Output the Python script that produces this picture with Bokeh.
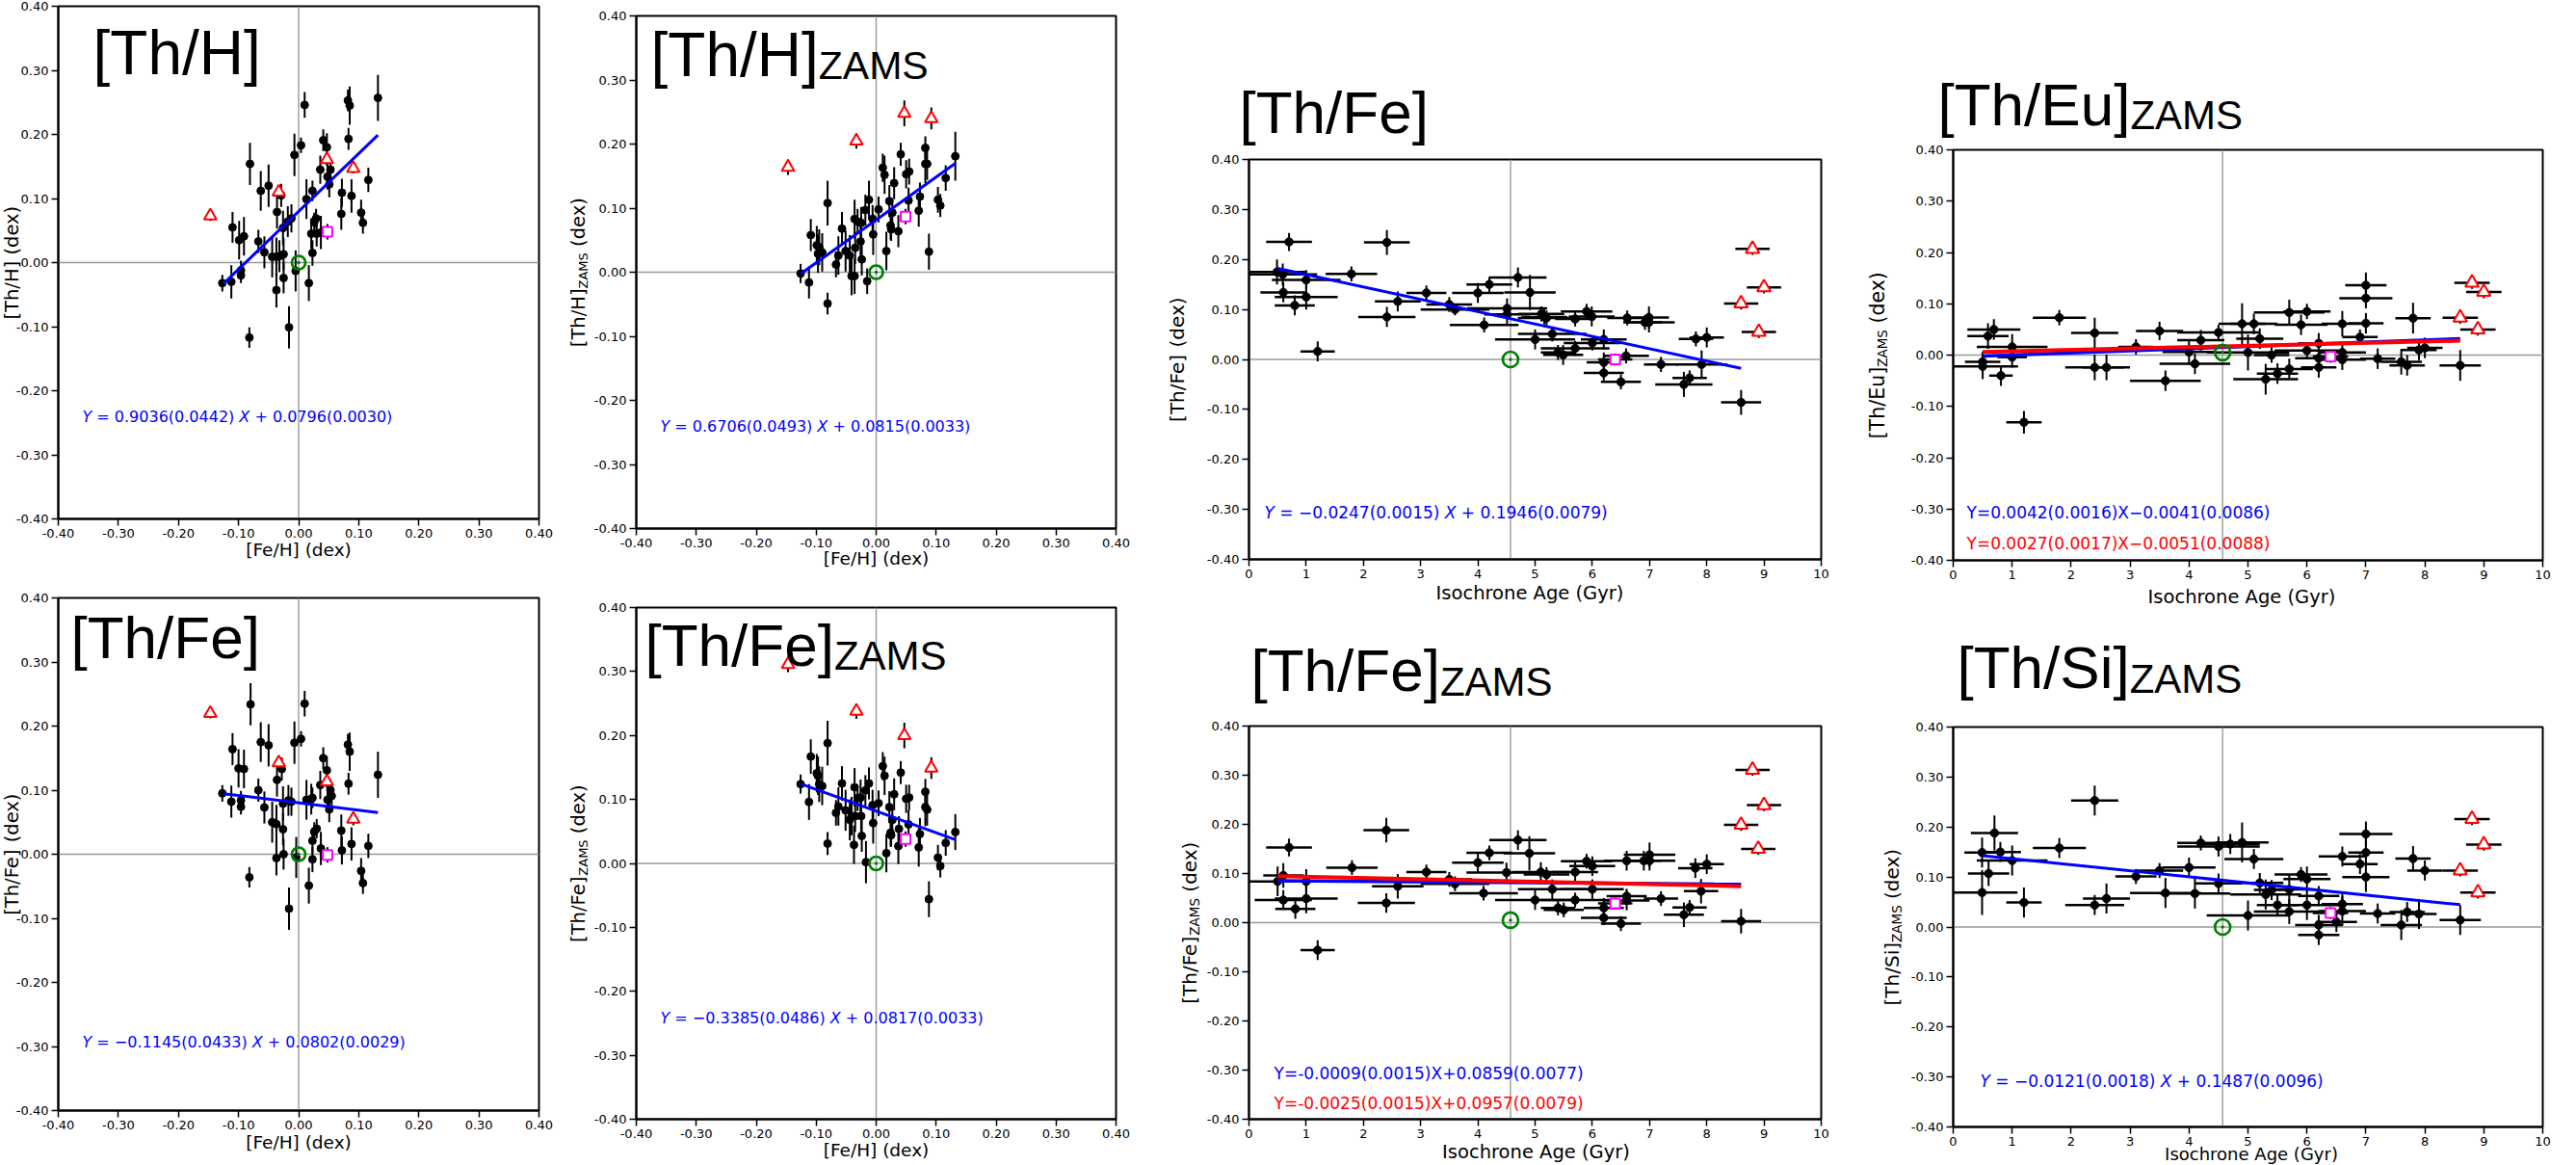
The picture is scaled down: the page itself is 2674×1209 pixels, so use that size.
import math
from bokeh.plotting import figure
from bokeh.models import Label, Span, FixedTicker, NumeralTickFormatter, Range1d, GridBox
from bokeh.layouts import row, column
from bokeh.embed import file_html
from bokeh.resources import INLINE

# ---------------- tick values ----------------
FEH_TICKS = [-0.4, -0.3, -0.2, -0.1, 0.0, 0.1, 0.2, 0.3, 0.4]
AGE_TICKS = [0, 1, 2, 3, 4, 5, 6, 7, 8, 9, 10]
Y_TICKS = [-0.4, -0.3, -0.2, -0.1, 0.0, 0.1, 0.2, 0.3, 0.4]
SUN_AGE = 4.57

# ---------------- panel 1 : [Th/H] vs [Fe/H] ----------------
thh_feh = [-0.127,-0.112,-0.110,-0.099,-0.096,-0.096,-0.091,-0.081,-0.082,-0.067,-0.063,-0.057,-0.050,-0.044,-0.037,-0.037,-0.036,-0.032,-0.029,-0.026,-0.025,-0.025,-0.018,-0.016,-0.012,-0.007,-0.005,0.004,0.010,0.013,0.017,0.021,0.023,0.023,0.026,0.029,0.030,0.036,0.037,0.041,0.047,0.048,0.051,0.053,0.071,0.072,0.082,0.085,0.083,0.088,0.104,0.107,0.116,0.132]
thh_val = [-0.032,-0.030,0.055,0.035,-0.012,-0.020,0.041,0.154,-0.117,0.033,0.112,0.016,0.120,0.009,0.009,-0.043,0.079,0.010,0.105,0.054,0.013,-0.024,0.064,-0.101,0.069,0.168,-0.013,0.183,0.246,0.099,-0.032,0.045,0.112,0.015,0.063,0.069,0.045,0.145,0.047,0.191,0.180,0.134,0.122,0.145,0.076,0.109,0.253,0.245,0.193,0.104,0.078,0.062,0.129,0.257]
thh_err = [0.013,0.026,0.024,0.030,0.015,0.012,0.030,0.033,0.016,0.018,0.031,0.025,0.033,0.032,0.030,0.027,0.026,0.025,0.018,0.027,0.025,0.024,0.024,0.033,0.022,0.033,0.032,0.012,0.020,0.031,0.028,0.024,0.016,0.020,0.015,0.015,0.020,0.022,0.026,0.017,0.022,0.020,0.020,0.017,0.025,0.022,0.017,0.030,0.017,0.026,0.020,0.017,0.019,0.036]
thh_tri_feh = [-0.147, -0.033, 0.047, 0.091]
thh_tri_val = [0.073, 0.110, 0.161, 0.147]
thh_tri_err = [0.008, 0.010, 0.010, 0.008]
thh_sq = [0.048, 0.048, 0.019]
thh_fit_x = [-0.125, 0.132]
thh_fit_y = [-0.033, 0.199]

# ---------------- panel 2 : [Th/H]ZAMS vs [Fe/H] ----------------
thhz_feh = [-0.126,-0.112,-0.109,-0.099,-0.097,-0.095,-0.090,-0.081,-0.081,-0.067,-0.063,-0.057,-0.051,-0.044,-0.041,-0.036,-0.036,-0.035,-0.031,-0.026,-0.025,-0.024,-0.018,-0.015,-0.012,-0.006,-0.005,0.004,0.011,0.014,0.017,0.022,0.024,0.025,0.027,0.030,0.037,0.041,0.050,0.054,0.055,0.071,0.073,0.082,0.082,0.085,0.088,0.103,0.107,0.116,0.132]
thhz_val = [-0.002,-0.016,0.058,0.042,0.029,0.039,0.031,0.108,-0.049,0.012,0.026,0.068,0.033,0.026,-0.006,0.083,-0.006,0.038,0.079,0.048,0.077,0.020,0.097,-0.014,0.113,0.083,0.059,0.098,0.163,0.152,0.033,0.111,0.073,0.067,0.093,0.139,0.064,0.184,0.153,0.112,0.157,0.096,0.118,0.194,0.169,0.169,0.032,0.113,0.104,0.147,0.181]
thhz_err = [0.015,0.025,0.025,0.030,0.030,0.028,0.030,0.035,0.017,0.020,0.030,0.026,0.032,0.032,0.030,0.030,0.028,0.025,0.020,0.028,0.025,0.025,0.024,0.020,0.030,0.022,0.032,0.020,0.022,0.030,0.030,0.025,0.022,0.018,0.020,0.025,0.025,0.018,0.022,0.020,0.020,0.025,0.022,0.018,0.030,0.025,0.028,0.020,0.018,0.020,0.038]
thhz_tri_feh = [-0.147, -0.033, 0.047, 0.092]
thhz_tri_val = [0.164, 0.205, 0.248, 0.240]
thhz_tri_err = [0.012, 0.012, 0.020, 0.017]
thhz_sq = [0.049, 0.087, 0.010]
thhz_fit_x = [-0.125, 0.132]
thhz_fit_y = [-0.002, 0.170]

# ---------------- panel 5 : [Th/Fe] vs [Fe/H] ----------------
thfe_feh = [-0.127,-0.112,-0.110,-0.100,-0.096,-0.096,-0.091,-0.080,-0.082,-0.067,-0.063,-0.057,-0.050,-0.044,-0.037,-0.037,-0.036,-0.028,-0.026,-0.026,-0.025,-0.017,-0.016,-0.012,-0.007,-0.004,0.004,0.010,0.013,0.017,0.021,0.023,0.023,0.023,0.026,0.030,0.036,0.037,0.041,0.047,0.048,0.051,0.053,0.055,0.071,0.072,0.082,0.085,0.083,0.088,0.104,0.107,0.116,0.132]
thfe_val = [0.095,0.082,0.164,0.134,0.084,0.074,0.133,0.234,-0.036,0.100,0.175,0.073,0.170,0.050,0.047,-0.006,0.116,0.133,0.079,0.039,0.000,0.084,-0.085,0.082,0.174,-0.005,0.180,0.235,0.085,-0.049,0.086,0.088,0.021,-0.008,0.035,0.040,0.108,0.009,0.150,0.131,0.085,0.070,0.100,0.091,0.037,0.006,0.171,0.160,0.110,0.016,-0.026,-0.045,0.013,0.124]
thfe_err = [0.013,0.025,0.025,0.030,0.015,0.012,0.030,0.033,0.016,0.018,0.031,0.025,0.033,0.032,0.030,0.027,0.026,0.018,0.027,0.025,0.024,0.024,0.033,0.022,0.033,0.032,0.012,0.020,0.031,0.028,0.024,0.016,0.020,0.020,0.015,0.015,0.022,0.026,0.017,0.022,0.020,0.020,0.017,0.017,0.025,0.022,0.017,0.030,0.017,0.026,0.020,0.017,0.019,0.036]
thfe_tri_feh = [-0.147, -0.033, 0.047, 0.091]
thfe_tri_val = [0.220, 0.143, 0.113, 0.055]
thfe_tri_err = [0.008, 0.010, 0.010, 0.010]
thfe_sq = [0.048, -0.001, 0.020]
thfe_fit_x = [-0.125, 0.132]
thfe_fit_y = [0.0945, 0.0651]

# ---------------- panel 6 : [Th/Fe]ZAMS vs [Fe/H] ----------------
thfez_feh = [-0.126,-0.112,-0.109,-0.099,-0.097,-0.095,-0.090,-0.081,-0.081,-0.067,-0.063,-0.057,-0.051,-0.044,-0.041,-0.036,-0.037,-0.035,-0.031,-0.026,-0.025,-0.024,-0.018,-0.017,-0.012,-0.006,-0.005,0.004,0.011,0.014,0.017,0.022,0.024,0.025,0.027,0.030,0.037,0.038,0.041,0.050,0.054,0.055,0.071,0.073,0.082,0.082,0.085,0.088,0.103,0.107,0.116,0.132]
thfez_val = [0.124,0.096,0.167,0.141,0.137,0.124,0.121,0.188,0.031,0.079,0.089,0.125,0.083,0.068,0.074,0.119,0.029,0.074,0.102,0.103,0.074,0.043,0.114,0.002,0.125,0.091,0.063,0.094,0.152,0.137,0.016,0.088,0.048,0.044,0.068,0.108,0.027,0.054,0.142,0.101,0.061,0.103,0.025,0.046,0.112,0.088,0.084,-0.056,0.009,-0.004,0.032,0.049]
thfez_err = [0.015,0.028,0.027,0.030,0.030,0.028,0.030,0.035,0.018,0.020,0.030,0.027,0.032,0.032,0.030,0.030,0.030,0.025,0.020,0.028,0.025,0.025,0.024,0.033,0.025,0.024,0.032,0.020,0.022,0.030,0.030,0.025,0.022,0.018,0.022,0.025,0.028,0.020,0.018,0.022,0.022,0.020,0.030,0.025,0.020,0.030,0.025,0.028,0.020,0.018,0.020,0.028]
thfez_tri_feh = [-0.147, -0.033, 0.047, 0.092]
thfez_tri_val = [0.311, 0.238, 0.200, 0.149]
thfez_tri_err = [0.012, 0.012, 0.020, 0.017]
thfez_sq = [0.049, 0.038, 0.010]
thfez_fit_x = [-0.125, 0.132]
thfez_fit_y = [0.124, 0.037]

# ---------------- panel 3 : [Th/Fe] vs age ----------------
a3_age = [0.49,0.59,0.60,0.70,0.80,1.0,1.0,1.2,1.79,2.41,2.41,2.60,3.10,3.50,3.60,4.00,4.11,4.20,4.51,4.51,4.70,4.91,5.0,5.11,5.16,5.2,5.30,5.40,5.49,5.70,5.70,5.90,5.99,6.00,6.20,6.20,6.20,6.50,6.59,6.61,6.92,6.99,6.99,7.20,7.60,7.70,7.81,7.91,8.00,8.60]
a3_val = [0.175,0.170,0.134,0.235,0.108,0.159,0.125,0.016,0.171,0.234,0.085,0.116,0.133,0.110,0.100,0.133,0.069,0.150,0.102,0.090,0.164,0.134,0.040,0.091,0.085,0.083,0.051,0.014,0.009,0.022,0.081,0.096,0.086,0.033,-0.006,-0.027,0.040,-0.045,0.007,0.083,0.074,0.084,0.074,-0.010,-0.050,-0.037,0.041,-0.010,0.044,-0.086]
a3_xerr = [0.5,0.6,0.4,0.4,0.35,0.6,0.55,0.3,0.45,0.4,0.5,0.4,0.35,0.4,0.6,0.45,0.6,0.4,0.7,0.4,0.5,0.45,0.7,0.4,0.4,0.5,0.6,0.3,0.35,0.6,0.35,0.45,0.4,0.5,0.3,0.35,0.4,0.35,0.4,0.35,0.3,0.35,0.45,0.3,0.5,0.3,0.3,0.45,0.3,0.35]
a3_yerr = [0.025,0.022,0.02,0.018,0.02,0.02,0.025,0.02,0.015,0.025,0.02,0.02,0.015,0.015,0.012,0.02,0.015,0.015,0.02,0.02,0.02,0.035,0.02,0.015,0.015,0.015,0.015,0.015,0.02,0.015,0.015,0.015,0.02,0.015,0.02,0.015,0.02,0.015,0.015,0.015,0.015,0.022,0.02,0.015,0.025,0.015,0.015,0.028,0.02,0.025]
a3_tri_age = [8.80, 9.00, 8.60, 8.91]
a3_tri_val = [0.221, 0.144, 0.112, 0.055]
a3_sq = [6.40, 0.000]
a3_sun = 0.0
a3_fit_x = [0.5, 8.6]
a3_fit_y = [0.182, -0.018]

# ---------------- panel 4 : [Th/Eu]ZAMS vs age ----------------
a4_age = [0.50,0.50,0.59,0.69,0.81,1.0,1.0,1.2,1.8,2.4,2.4,2.6,3.1,3.5,3.6,4.0,4.1,4.2,4.5,4.9,5.0,5.1,5.2,5.3,5.4,5.5,5.7,5.7,5.9,6.0,6.0,6.2,6.2,6.2,6.6,6.6,6.6,6.9,7.0,7.0,7.0,7.2,7.6,7.7,7.8,7.9,8.0,8.6]
a4_val = [-0.022,-0.013,0.037,0.050,-0.040,0.016,-0.004,-0.131,0.073,0.043,-0.024,-0.024,0.016,0.047,-0.050,0.006,-0.017,0.029,0.044,0.061,0.005,0.061,0.032,-0.047,0.000,-0.036,0.083,-0.027,0.059,0.085,0.009,0.023,-0.006,-0.024,0.061,0.005,-0.009,0.035,0.136,0.111,0.062,-0.007,-0.013,-0.020,0.072,0.010,0.014,-0.020]
a4_xerr = [0.6,0.3,0.35,0.45,0.2,0.6,0.25,0.3,0.45,0.4,0.5,0.4,0.3,0.4,0.6,0.45,0.6,0.4,0.7,0.4,0.7,0.4,0.4,0.55,0.3,0.35,0.6,0.4,0.45,0.4,0.55,0.35,0.4,0.3,0.35,0.4,0.4,0.3,0.35,0.45,0.3,0.3,0.35,0.3,0.3,0.3,0.3,0.35]
a4_yerr = [0.025,0.02,0.025,0.02,0.02,0.025,0.02,0.022,0.015,0.03,0.025,0.025,0.015,0.018,0.02,0.025,0.02,0.02,0.015,0.04,0.035,0.02,0.02,0.03,0.015,0.02,0.025,0.02,0.02,0.015,0.015,0.02,0.015,0.02,0.025,0.015,0.02,0.015,0.025,0.02,0.02,0.02,0.025,0.02,0.03,0.02,0.02,0.03]
a4_tri_age = [8.8, 9.0, 8.6, 8.9]
a4_tri_val = [0.141, 0.123, 0.073, 0.050]
a4_sq = [6.4, -0.003]
a4_sun = 0.005
a4_fit_x = [0.5, 8.6]
a4_fit_blue = [-0.002, 0.032]
a4_fit_red = [0.006, 0.028]

# ---------------- panel 7 : [Th/Fe]ZAMS vs age ----------------
a7_age = [0.50,0.60,0.60,0.70,0.81,1.0,1.0,1.2,1.8,2.4,2.4,2.6,3.1,3.5,3.6,4.0,4.1,4.2,4.5,4.7,4.9,5.0,5.1,5.2,5.3,5.4,5.5,5.7,5.7,5.9,6.0,6.0,6.2,6.2,6.5,6.6,6.6,6.6,6.9,7.0,7.0,7.2,7.6,7.7,7.8,7.9,8.0,8.6]
a7_val = [0.084,0.096,0.046,0.153,0.028,0.084,0.049,-0.056,0.112,0.188,0.040,0.074,0.103,0.088,0.079,0.122,0.060,0.142,0.102,0.168,0.141,0.046,0.103,0.098,0.068,0.030,0.026,0.046,0.103,0.125,0.115,0.068,0.030,0.010,-0.002,0.126,0.054,0.045,0.126,0.138,0.126,0.049,0.016,0.031,0.111,0.064,0.119,0.003]
a7_xerr = [0.6,0.35,0.5,0.4,0.35,0.55,0.55,0.3,0.45,0.4,0.5,0.45,0.35,0.4,0.6,0.45,0.6,0.4,0.7,0.5,0.45,0.7,0.5,0.4,0.6,0.3,0.35,0.6,0.4,0.45,0.4,0.55,0.35,0.4,0.35,0.4,0.35,0.4,0.3,0.45,0.45,0.3,0.35,0.3,0.3,0.3,0.3,0.35]
a7_yerr = [0.03,0.025,0.02,0.018,0.02,0.025,0.03,0.02,0.015,0.025,0.02,0.025,0.015,0.015,0.015,0.02,0.015,0.015,0.02,0.02,0.035,0.02,0.02,0.015,0.02,0.015,0.015,0.015,0.02,0.015,0.02,0.02,0.02,0.015,0.015,0.02,0.015,0.02,0.02,0.025,0.02,0.015,0.025,0.015,0.02,0.025,0.02,0.025]
a7_tri_age = [8.8, 9.0, 8.6, 8.9]
a7_tri_val = [0.311, 0.239, 0.199, 0.150]
a7_sq = [6.4, 0.039]
a7_sun = 0.005
a7_fit_x = [0.5, 8.6]
a7_fit_blue = [0.0854, 0.0782]
a7_fit_red = [0.0945, 0.0742]

# ---------------- panel 8 : [Th/Si]ZAMS vs age ----------------
a8_age = [0.49,0.49,0.60,0.70,0.80,1.0,1.2,1.8,2.4,2.4,2.6,3.1,3.5,3.6,4.0,4.1,4.2,4.5,4.5,4.7,4.9,5.0,5.1,5.2,5.3,5.4,5.5,5.7,5.7,5.9,6.0,6.0,6.2,6.2,6.2,6.5,6.6,6.6,6.6,6.9,7.0,7.0,7.0,7.2,7.6,7.7,7.8,7.9,8.0,8.6]
a8_val = [0.149,0.069,0.107,0.188,0.150,0.133,0.049,0.158,0.253,0.044,0.057,0.101,0.113,0.068,0.119,0.067,0.168,0.161,0.087,0.166,0.169,0.023,0.136,0.088,0.065,0.074,0.044,0.031,0.075,0.105,0.096,0.044,0.062,0.004,-0.016,0.010,0.141,0.046,0.032,0.126,0.186,0.149,0.100,0.027,0.004,0.030,0.137,0.026,0.113,0.014]
a8_xerr = [0.3,0.6,0.35,0.4,0.35,0.6,0.3,0.45,0.4,0.5,0.4,0.35,0.4,0.6,0.45,0.6,0.4,0.7,0.4,0.5,0.45,0.7,0.5,0.4,0.6,0.3,0.35,0.6,0.4,0.45,0.4,0.55,0.35,0.4,0.35,0.35,0.4,0.35,0.4,0.3,0.45,0.3,0.4,0.3,0.35,0.3,0.3,0.3,0.3,0.35]
a8_yerr = [0.03,0.045,0.025,0.035,0.02,0.03,0.03,0.02,0.03,0.02,0.03,0.015,0.015,0.03,0.02,0.03,0.015,0.02,0.02,0.02,0.04,0.03,0.02,0.02,0.03,0.02,0.02,0.025,0.03,0.015,0.025,0.03,0.02,0.02,0.02,0.02,0.02,0.02,0.03,0.02,0.025,0.025,0.03,0.02,0.03,0.02,0.025,0.03,0.02,0.03]
a8_tri_age = [8.8, 9.0, 8.6, 8.9]
a8_tri_val = [0.216, 0.165, 0.113, 0.069]
a8_sq = [6.4, 0.028]
a8_sun = 0.0
a8_fit_x = [0.5, 8.6]
a8_fit_y = [0.1427, 0.0446]

# ---------------- text metrics (em) ----------------
DJ = {' ': 0.318, '(': 0.390, ')': 0.390, '[': 0.390, ']': 0.390, '/': 0.337, '.': 0.318,
      '-': 0.361, '+': 0.838, '=': 0.838, '\u2212': 0.838, 'A': 0.684, 'E': 0.632, 'F': 0.575,
      'G': 0.775, 'H': 0.752, 'I': 0.295, 'M': 0.863, 'S': 0.635, 'T': 0.611, 'X': 0.685,
      'Y': 0.611, 'Z': 0.685, 'a': 0.613, 'c': 0.550, 'd': 0.635, 'e': 0.615, 'g': 0.635,
      'h': 0.634, 'i': 0.278, 'n': 0.634, 'o': 0.612, 'r': 0.411, 's': 0.521, 'u': 0.634,
      'x': 0.592, 'y': 0.592}
LS = {' ': 0.278, '[': 0.278, ']': 0.278, '/': 0.278, 'T': 0.611, 'h': 0.556, 'H': 0.722,
      'F': 0.611, 'e': 0.556, 'E': 0.667, 'u': 0.556, 'S': 0.667, 'i': 0.222, 'Z': 0.611,
      'A': 0.667, 'M': 0.833}
DJF = "DejaVu Sans"
LSF = "Liberation Sans"
MID = 0.32   # distance (em) from the alphabetic baseline up to the label's vertical anchor

W, H = 2674, 1209

# transparent overlay figure spanning the whole page; its frame holds all texts
ov = figure(width=W, height=H, x_range=Range1d(0, W), y_range=Range1d(H, 0),
            output_backend="svg", toolbar_location=None, tools="", min_border=0,
            x_axis_type=None, y_axis_type=None)
ov.grid.visible = False
ov.outline_line_color = None
ov.background_fill_color = None
ov.border_fill_color = None


def tw(s, size, font):
    t = LS if font == LSF else DJ
    return sum(t.get(c, 0.636) for c in s) * size


def put(X, Y, text, size, font=DJF, style="normal", color="black", angle=0.0, align="left"):
    # (X, Y) is the point on the alphabetic baseline
    if angle == 0.0:
        Y = Y - MID * size
    else:
        X = X - MID * size
    ov.add_layout(Label(x=X, y=Y, x_units="data", y_units="data",
                        text=text, text_font_size=f"{size}px", text_font=font,
                        text_font_style=style, text_color=color, angle=angle,
                        text_align=align, text_baseline="middle"))


def rich_h(X, Y, pieces):
    for text, size, font, style, color, shift in pieces:
        lead = len(text) - len(text.lstrip(' '))
        core = text.strip(' ')
        put(X + tw(' ' * lead, size, font), Y + shift, core, size, font, style, color)
        X += tw(text, size, font)


def rich_v(X, Yc, pieces):
    total = sum(tw(t, s, f) for t, s, f, st, c, sh in pieces)
    Y = Yc + total / 2.0
    for text, size, font, style, color, shift in pieces:
        lead = len(text) - len(text.lstrip(' '))
        core = text.strip(' ')
        put(X + shift, Y - tw(' ' * lead, size, font), core, size, font, style,
            color, angle=math.pi / 2)
        Y -= tw(text, size, font)


def base_fig(block, frame, xr, xticks, xfmt, zero_x):
    bx0, by0, bx1, by1 = block
    fx0, fy0, fx1, fy1 = frame
    p = figure(width=bx1 - bx0, height=by1 - by0, x_range=xr, y_range=(-0.4, 0.4),
               output_backend="svg", toolbar_location=None, tools="",
               min_border_left=fx0 - bx0, min_border_right=bx1 - fx1,
               min_border_top=fy0 - by0, min_border_bottom=by1 - fy1)
    p.grid.visible = False
    p.outline_line_color = "black"
    p.outline_line_width = 2
    p.outline_line_alpha = 1.0
    p.background_fill_color = "white"
    p.border_fill_color = "white"
    for ax in (p.xaxis[0], p.yaxis[0]):
        ax.axis_line_width = 2
        ax.axis_line_color = "black"
        ax.major_tick_line_width = 1.5
        ax.major_tick_line_color = "black"
        ax.major_tick_out = 7
        ax.major_tick_in = 0
        ax.minor_tick_out = 0
        ax.minor_tick_in = 0
        ax.major_label_text_font = DJF
        ax.major_label_text_font_size = "13px"
        ax.major_label_text_color = "black"
        ax.major_label_standoff = 3
    p.xaxis.ticker = FixedTicker(ticks=xticks)
    p.xaxis.formatter = NumeralTickFormatter(format=xfmt)
    p.yaxis.ticker = FixedTicker(ticks=Y_TICKS)
    p.yaxis.formatter = NumeralTickFormatter(format="0.00")
    p.add_layout(Span(location=0, dimension="width", line_color="#9a9a9a",
                      line_width=1.6, level="underlay"))
    p.add_layout(Span(location=zero_x, dimension="height", line_color="#9a9a9a",
                      line_width=1.4, level="underlay"))
    return p


def points(p, x, y, ye, xe=None, dot=8, lw=2.0):
    n = min(len(x), len(y), len(ye))
    x, y, ye = x[:n], y[:n], ye[:n]
    if xe is not None:
        xe = xe[:n]
        p.segment(x0=[a - b for a, b in zip(x, xe)], y0=y, x1=[a + b for a, b in zip(x, xe)],
                  y1=y, line_color="black", line_width=lw + 0.5)
    p.segment(x0=x, y0=[a - b for a, b in zip(y, ye)], x1=x, y1=[a + b for a, b in zip(y, ye)],
              line_color="black", line_width=lw)
    p.scatter(x=x, y=y, marker="circle", size=dot, fill_color="black", line_color="black")


def specials(p, tx, ty, tye, txe, sq, sun, tri_size, sun_size):
    if txe is not None:
        p.segment(x0=[a - txe for a in tx], y0=ty, x1=[a + txe for a in tx], y1=ty,
                  line_color="black", line_width=2.5)
    p.segment(x0=tx, y0=[a - b for a, b in zip(ty, tye)], x1=tx,
              y1=[a + b for a, b in zip(ty, tye)], line_color="black", line_width=2)
    p.scatter(x=tx, y=ty, marker="triangle", size=tri_size, fill_color="white",
              line_color="red", line_width=2)
    sx, sy = sq[0], sq[1]
    if txe is not None:
        p.segment(x0=[sx - 0.3], y0=[sy], x1=[sx + 0.3], y1=[sy], line_color="black", line_width=2.5)
    p.segment(x0=[sx], y0=[sy - 0.012], x1=[sx], y1=[sy + 0.012], line_color="black", line_width=2)
    p.scatter(x=[sx], y=[sy], marker="square", size=10, fill_color="white",
              line_color="#ff00ff", line_width=2)
    p.scatter(x=[sun[0]], y=[sun[1]], marker="circle", size=sun_size, fill_color=None,
              line_color="#008000", line_width=2.7)
    p.scatter(x=[sun[0]], y=[sun[1]], marker="circle", size=3.5, fill_color="#008000",
              line_color=None)


def ylab(frame, X, pieces):
    fx0, fy0, fx1, fy1 = frame
    rich_v(X, (fy0 + fy1) / 2.0, pieces)


def xlab(frame, Y, text, size):
    fx0, fy0, fx1, fy1 = frame
    put((fx0 + fx1) / 2.0, Y, text, size, DJF, align="center")


def eq_math(X, Y, mid, tail, size, color="blue"):
    rich_h(X, Y, [("Y", size, DJF, "italic", color, 0),
                  (mid, size, DJF, "normal", color, 0),
                  ("X", size, DJF, "italic", color, 0),
                  (tail, size, DJF, "normal", color, 0)])


def title(X, Y, main, size, zams=False, sub=41, dy=4):
    pieces = [(main, size, LSF, "normal", "black", 0)]
    if zams:
        pieces.append(("ZAMS", sub, LSF, "normal", "black", dy))
    rich_h(X, Y, pieces)


def lab_pieces(main, size, zams, sub):
    ps = [(main, size, DJF, "normal", "black", 0)]
    if zams:
        ps.append(("ZAMS", sub, DJF, "normal", "black", 3))
    ps.append((" (dex)", size, DJF, "normal", "black", 0))
    return ps


# ---------------- layout blocks (page coords) ----------------
B1, F1 = (0, 0, 578, 600), (60, 6, 559, 538)
B5, F5 = (0, 600, 578, 1209), (60, 620, 559, 1152)
B2, F2 = (578, 0, 1210, 600), (660, 16, 1158, 548)
B6, F6 = (578, 600, 1210, 1209), (660, 630, 1158, 1161)
B3, F3 = (1210, 0, 1925, 640), (1285, 165, 1890, 580)
B7, F7 = (1210, 640, 1925, 1209), (1296, 753, 1892, 1161)
B4, F4 = (1925, 0, 2674, 640), (2014, 155, 2639, 581)
B8, F8 = (1925, 640, 2674, 1209), (2027, 754, 2646, 1169)

BLUE = "#0000ff"
RED = "#ff0000"

# ---- panel 1
p1 = base_fig(B1, F1, (-0.4, 0.4), FEH_TICKS, "0.00", 0.0)
points(p1, thh_feh, thh_val, thh_err)
p1.line(thh_fit_x, thh_fit_y, line_color=BLUE, line_width=3)
specials(p1, thh_tri_feh, thh_tri_val, thh_tri_err, None, thh_sq, (0.0, 0.0), 13, 14)
title(96, 75, "[Th/H]", 64)
eq_math(85, 437, " = 0.9036(0.0442) ", " + 0.0796(0.0030)", 16)
ylab(F1, 18, lab_pieces("[Th/H]", 19.5, False, 13))
xlab(F1, 576, "[Fe/H] (dex)", 18.5)

# ---- panel 2
p2 = base_fig(B2, F2, (-0.4, 0.4), FEH_TICKS, "0.00", 0.0)
points(p2, thhz_feh, thhz_val, thhz_err)
p2.line(thhz_fit_x, thhz_fit_y, line_color=BLUE, line_width=3)
specials(p2, thhz_tri_feh, thhz_tri_val, thhz_tri_err, None, thhz_sq, (0.0, 0.0), 13, 14)
title(675, 77, "[Th/H]", 64, True, 41, 4)
eq_math(685, 447, " = 0.6706(0.0493) ", " + 0.0815(0.0033)", 16)
ylab(F2, 606, lab_pieces("[Th/H]", 19.5, True, 13))
xlab(F2, 585, "[Fe/H] (dex)", 18.5)

# ---- panel 5
p5 = base_fig(B5, F5, (-0.4, 0.4), FEH_TICKS, "0.00", 0.0)
points(p5, thfe_feh, thfe_val, thfe_err)
p5.line(thfe_fit_x, thfe_fit_y, line_color=BLUE, line_width=3)
specials(p5, thfe_tri_feh, thfe_tri_val, thfe_tri_err, None, thfe_sq, (0.0, 0.0), 13, 14)
title(73, 681, "[Th/Fe]", 62)
eq_math(85, 1086, " = \u22120.1145(0.0433) ", " + 0.0802(0.0029)", 16)
ylab(F5, 18, lab_pieces("[Th/Fe]", 19.5, False, 13))
xlab(F5, 1191, "[Fe/H] (dex)", 18.5)

# ---- panel 6
p6 = base_fig(B6, F6, (-0.4, 0.4), FEH_TICKS, "0.00", 0.0)
points(p6, thfez_feh, thfez_val, thfez_err)
p6.line(thfez_fit_x, thfez_fit_y, line_color=BLUE, line_width=3)
specials(p6, thfez_tri_feh, thfez_tri_val, thfez_tri_err, None, thfez_sq, (0.0, 0.0), 13, 14)
title(669, 689, "[Th/Fe]", 62, True, 42, 4)
eq_math(685, 1061, " = \u22120.3385(0.0486) ", " + 0.0817(0.0033)", 16)
ylab(F6, 606, lab_pieces("[Th/Fe]", 19.5, True, 13))
xlab(F6, 1199, "[Fe/H] (dex)", 18.5)

# ---- panel 3
p3 = base_fig(B3, F3, (0, 10), AGE_TICKS, "0", SUN_AGE)
points(p3, a3_age, a3_val, a3_yerr, a3_xerr, dot=8.5)
p3.line(a3_fit_x, a3_fit_y, line_color=BLUE, line_width=3)
specials(p3, a3_tri_age, a3_tri_val, [0.012] * 4, 0.3, a3_sq, (SUN_AGE, a3_sun), 14, 16)
title(1286, 136, "[Th/Fe]", 62)
eq_math(1312, 537, " = \u22120.0247(0.0015) ", " + 0.1946(0.0079)", 17)
ylab(F3, 1228, lab_pieces("[Th/Fe]", 20, False, 13.5))
xlab(F3, 621, "Isochrone Age (Gyr)", 19.5)

# ---- panel 4
p4 = base_fig(B4, F4, (0, 10), AGE_TICKS, "0", SUN_AGE)
points(p4, a4_age, a4_val, a4_yerr, a4_xerr, dot=8.5)
p4.line(a4_fit_x, a4_fit_blue, line_color=BLUE, line_width=3.5)
p4.line(a4_fit_x, a4_fit_red, line_color=RED, line_width=4)
specials(p4, a4_tri_age, a4_tri_val, [0.012] * 4, 0.3, a4_sq, (SUN_AGE, a4_sun), 14, 16)
title(2011, 128, "[Th/Eu]", 62, True, 42, 4)
put(2041, 537, "Y=0.0042(0.0016)X\u22120.0041(0.0086)", 17, DJF, color=BLUE)
put(2041, 569, "Y=0.0027(0.0017)X\u22120.0051(0.0088)", 17, DJF, color=RED)
ylab(F4, 1955, lab_pieces("[Th/Eu]", 20.5, True, 13.5))
xlab(F4, 625, "Isochrone Age (Gyr)", 19.5)

# ---- panel 7
p7 = base_fig(B7, F7, (0, 10), AGE_TICKS, "0", SUN_AGE)
points(p7, a7_age, a7_val, a7_yerr, a7_xerr, dot=8.5)
p7.line(a7_fit_x, a7_fit_blue, line_color=BLUE, line_width=3.5)
p7.line(a7_fit_x, a7_fit_red, line_color=RED, line_width=4)
specials(p7, a7_tri_age, a7_tri_val, [0.012] * 4, 0.3, a7_sq, (SUN_AGE, a7_sun), 14, 16)
title(1298, 715, "[Th/Fe]", 62, True, 42, 5)
put(1322, 1119, "Y=-0.0009(0.0015)X+0.0859(0.0077)", 17, DJF, color=BLUE)
put(1322, 1150, "Y=-0.0025(0.0015)X+0.0957(0.0079)", 17, DJF, color=RED)
ylab(F7, 1241, lab_pieces("[Th/Fe]", 20, True, 13.5))
xlab(F7, 1201, "Isochrone Age (Gyr)", 19.5)

# ---- panel 8
p8 = base_fig(B8, F8, (0, 10), AGE_TICKS, "0", SUN_AGE)
points(p8, a8_age, a8_val, a8_yerr, a8_xerr, dot=8.5)
p8.line(a8_fit_x, a8_fit_y, line_color=BLUE, line_width=3)
specials(p8, a8_tri_age, a8_tri_val, [0.012] * 4, 0.3, a8_sq, (SUN_AGE, a8_sun), 14, 16)
title(2031, 712, "[Th/Si]", 62, True, 42, 5)
eq_math(2055, 1127, " = \u22120.0121(0.0018) ", " + 0.1487(0.0096)", 17)
ylab(F8, 1970, lab_pieces("[Th/Si]", 20, True, 13.5))
xlab(F8, 1203, "Isochrone Age (Gyr)", 18)

panels = row(column(p1, p5), column(p2, p6), column(p3, p7), column(p4, p8))
page = GridBox(children=[(panels, 0, 0), (ov, 0, 0)])
open("out.html", "w").write(file_html(page, INLINE))
